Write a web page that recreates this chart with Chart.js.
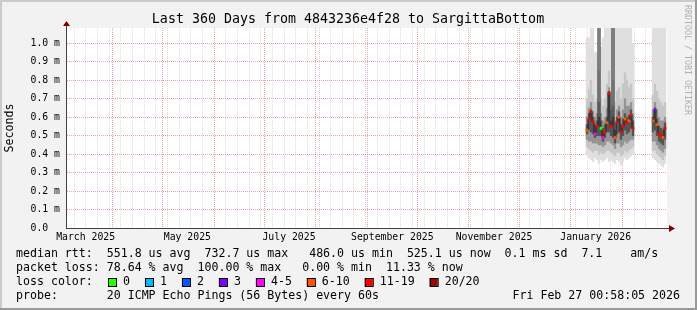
<!DOCTYPE html>
<html>
<head>
<meta charset="utf-8">
<title>Last 360 Days from 4843236e4f28 to SargittaBottom</title>
<script src="https://cdn.jsdelivr.net/npm/chart.js@4.4.1/dist/chart.umd.min.js"></script>
<style>
  html, body { margin: 0; padding: 0; background: #f2f2f2; }
  #wrap { width: 697px; height: 310px; }
</style>
</head>
<body>
<div id="wrap"><canvas id="rtt" width="697" height="310"></canvas></div>
<script>
// x is in days counted from 1 March 2025 (so month starts are whole numbers)
const binDays = [315.8, 317.0, 318.2, 319.4, 320.6, 321.8, 323.0, 324.2, 325.4, 326.6, 327.8, 329.0,
                 330.2, 331.4, 332.6, 333.8, 335.0, 336.2, 337.4, 338.6, 339.8, 341.0, 342.2, 343.4,
                 349.4,
                 355.4, 356.6, 357.8, 359.0, 360.2, 361.4, 362.6];

// smoke (ms): outer = min..max ping, then narrower darker bands around the median
const smokeMin = [.40, .38, .37, .36, .38, .37, .35, .37, .36, .37, .38, .36, .37, .36, .35, .37, .36, .34, .36, .38, .37, .38, .39, .40, null, .38, .37, .36, .35, .34, .33, .35];
const smokeMax = [1.03, 1.03, 1.2, 1.2, .95, .95, 1.2, .98, 1.03, 1.2, 1.2, 1.2, 1.2, 1.2, 1.2, 1.2, 1.2, 1.2, 1.2, 1.2, 1.2, 1.2, 1.2, 1.0, null, 1.2, 1.2, 1.2, 1.2, 1.2, 1.2, 1.2];
const band2Lo = [.44, .43, .42, .41, .42, .42, .40, .41, .40, .41, .42, .42, .41, .40, .39, .41, .41, .39, .40, .42, .41, .42, .43, .44, null, .42, .42, .40, .39, .38, .37, .39];
const band2Hi = [.70, .75, .80, .72, .68, .70, .85, .70, .66, .70, .78, .85, .74, .80, .68, .74, .76, .70, .78, .84, .80, .76, .78, .70, null, .72, .78, .74, .70, .68, .66, .68];
const band3Lo = [.48, .47, .47, .46, .46, .46, .45, .45, .44, .45, .47, .47, .46, .45, .43, .46, .46, .44, .45, .47, .46, .47, .48, .48, null, .47, .47, .45, .43, .42, .41, .43];
const band3Hi = [.60, .65, .68, .63, .60, .62, .68, .62, .58, .60, .65, .76, .64, .66, .58, .64, .66, .60, .64, .70, .66, .66, .68, .62, null, .64, .68, .64, .60, .58, .58, .60];
const coreLo = [.51, .53, .52, .51, .49, .50, .50, .50, .47, .49, .52, .52, .50, .49, .46, .51, .52, .48, .50, .53, .51, .52, .54, .50, null, .52, .53, .50, .47, .46, .45, .48];
const coreHi = [.56, .62, .64, .60, .56, .58, .60, .58, .54, .56, .60, .74, .58, .60, .53, .60, .63, .56, .59, .62, .60, .61, .64, .58, null, .60, .65, .59, .55, .54, .53, .57];

const medianRtt = [.53, .59, .63, .575, .51, .55, 1.5, .54, .49, .52, .57, .73, .55, 1.5, .49, .57, .60, .52, .55, .59, .57, .58, .61, .54, null, .58, .64, .56, .51, .50, .49, .54];
// index into lossLabels / lossColors
const lossClass = [5, 6, 6, 6, 4, 6, 6, 0, 4, 6, 5, 6, 6, 6, 5, 6, 5, 6, 6, 5, 6, 5, 6, 6, null, 5, 3, 5, 6, 6, 5, 6];

const lossLabels = ['0', '1', '2', '3', '4-5', '6-10', '11-19', '20/20'];
const lossColors = ['#26ff00', '#00b8ff', '#0059ff', '#7e00ff', '#ff00ff', '#ff5500', '#ff0000', '#a10000'];

const yTicks = [0, 0.1, 0.2, 0.3, 0.4, 0.5, 0.6, 0.7, 0.8, 0.9, 1.0];
const yTickLabels = ['0.0  ', '0.1 m', '0.2 m', '0.3 m', '0.4 m', '0.5 m', '0.6 m', '0.7 m', '0.8 m', '0.9 m', '1.0 m'];

const monthStarts = [31, 61, 92, 122, 153, 184, 214, 245, 275, 306, 337];
const labelDays = [15, 76, 137, 199, 260, 321];
const monthLabels = ['March 2025', 'May 2025', 'July 2025', 'September 2025', 'November 2025', 'January 2026'];

const titleText = 'Last 360 Days from 4843236e4f28 to SargittaBottom';
const legendLines = [
  'median rtt:  551.8 us avg  732.7 us max   486.0 us min  525.1 us now  0.1 ms sd  7.1    am/s',
  'packet loss: 78.64 % avg  100.00 % max   0.00 % min  11.33 % now'
];
const probeLine = 'probe:       20 ICMP Echo Pings (56 Bytes) every 60s';
const stampText = 'Fri Feb 27 00:58:05 2026';

const X_MIN = 3.8, X_MAX = 363.8;
const MONO = '"DejaVu Sans Mono", monospace';
const MGRID = 'rgba(230, 70, 70, 0.5)';
const GRID = 'rgba(143, 143, 143, 0.32)';

// weekly minor grid on Sundays (2 March 2025 = day 1)
const weekDays = [];
for (let d = 1; d < X_MAX; d += 7) if (d > X_MIN) weekDays.push(d);

const xTickValues = [...new Set([...weekDays, ...monthStarts, ...labelDays])].sort((a, b) => a - b);

function floating(lo, hi) {
  return binDays.map((d, i) => ({ x: d, y: lo[i] == null ? null : [lo[i], hi[i]] }));
}

function band(label, lo, hi, color, order) {
  return {
    type: 'bar',
    label: label,
    data: floating(lo, hi),
    backgroundColor: color,
    borderWidth: 0,
    grouped: false,
    barPercentage: 1,
    categoryPercentage: 1,
    order: order
  };
}

const rrdLook = {
  id: 'rrdLook',
  beforeDraw(chart) {
    const { ctx, chartArea: a, width, height } = chart;
    ctx.save();
    ctx.fillStyle = '#f2f2f2';
    ctx.fillRect(0, 0, width, height);
    ctx.fillStyle = '#cbcbcb';
    ctx.fillRect(0, 0, width, 2);
    ctx.fillRect(0, 0, 2, height);
    ctx.fillStyle = '#999999';
    ctx.fillRect(0, height - 2, width, 2);
    ctx.fillRect(width - 2, 0, 2, height);
    ctx.fillStyle = '#ffffff';
    ctx.fillRect(a.left, a.top, a.right - a.left, a.bottom - a.top);
    ctx.restore();
  },
  afterDraw(chart) {
    const { ctx, chartArea: a } = chart;
    ctx.save();

    // axes + arrows
    ctx.fillStyle = '#404040';
    ctx.fillRect(a.left - 1, a.top - 3, 1, a.bottom - a.top + 4);
    ctx.fillRect(a.left - 1, a.bottom, a.right - a.left + 4, 1);
    ctx.fillStyle = '#7f0000';
    ctx.beginPath();
    ctx.moveTo(a.left - 4, a.top - 2);
    ctx.lineTo(a.left + 3, a.top - 2);
    ctx.lineTo(a.left - 0.5, a.top - 7);
    ctx.fill();
    ctx.beginPath();
    ctx.moveTo(a.right + 2, a.bottom - 3);
    ctx.lineTo(a.right + 2, a.bottom + 4);
    ctx.lineTo(a.right + 8, a.bottom + 0.5);
    ctx.fill();

    // title
    ctx.fillStyle = '#000';
    ctx.font = '13.3px ' + MONO;
    ctx.textAlign = 'center';
    ctx.textBaseline = 'middle';
    ctx.fillText(titleText, 348, 20);

    // watermark
    ctx.save();
    ctx.translate(687, 5);
    ctx.rotate(Math.PI / 2);
    ctx.font = '8.3px ' + MONO;
    ctx.fillStyle = '#b0b0b0';
    ctx.textAlign = 'left';
    ctx.fillText('RRDTOOL / TOBI OETIKER', 0, 0);
    ctx.restore();

    // legend
    ctx.font = '11.6px ' + MONO;
    ctx.textAlign = 'left';
    ctx.fillStyle = '#000';
    ctx.fillText(legendLines[0], 16, 254);
    ctx.fillText(legendLines[1], 16, 268);
    ctx.fillText('loss color:', 16, 282);
    let bx = 108;
    lossLabels.forEach((lab, i) => {
      ctx.fillStyle = lossColors[i];
      ctx.fillRect(bx, 278, 8, 8);
      ctx.strokeStyle = '#000';
      ctx.lineWidth = 1;
      ctx.strokeRect(bx + 0.5, 278.5, 8, 8);
      ctx.fillStyle = '#000';
      ctx.fillText(lab, bx + 15, 282);
      bx = bx + 15 + ctx.measureText(lab).width + 15;
    });
    ctx.fillText(probeLine, 16, 296);
    ctx.textAlign = 'right';
    ctx.fillText(stampText, 680, 296);

    ctx.restore();
  }
};

const ctx = document.getElementById('rtt').getContext('2d');

new Chart(ctx, {
  type: 'bar',
  data: {
    datasets: [
      {
        type: 'line',
        label: 'median rtt',
        data: binDays.map((d, i) => ({ x: d, y: medianRtt[i] })),
        borderColor: '#1e1e1e',
        borderWidth: 1,
        stepped: 'middle',
        spanGaps: false,
        pointStyle: 'rect',
        pointRadius: 2,
        pointBorderWidth: 0,
        pointBackgroundColor: lossClass.map(c => c == null ? 'transparent' : lossColors[c]),
        order: 0
      },
      band('core', coreLo, coreHi, '#555555', 1),
      band('band3', band3Lo, band3Hi, '#949494', 2),
      band('band2', band2Lo, band2Hi, '#c6c6c6', 3),
      band('smoke', smokeMin, smokeMax, '#dfdfdf', 4)
    ]
  },
  options: {
    responsive: false,
    animation: false,
    events: [],
    layout: {
      padding: { left: 0, top: 28, right: 30, bottom: 0 }
    },
    plugins: {
      legend: { display: false },
      tooltip: { enabled: false }
    },
    scales: {
      x: {
        type: 'linear',
        min: X_MIN,
        max: X_MAX,
        offset: false,
        z: 1,
        afterBuildTicks: (scale) => {
          scale.ticks = xTickValues.map(v => ({ value: v }));
        },
        afterFit: (scale) => { scale.height = 82; },
        grid: {
          offset: false,
          drawTicks: false,
          lineWidth: 1,
          color: (c) => {
            const v = c.tick ? c.tick.value : null;
            if (monthStarts.includes(v)) return MGRID;
            if (weekDays.includes(v)) return GRID;
            return 'rgba(0, 0, 0, 0)';
          }
        },
        border: { display: false, dash: [1, 1] },
        ticks: {
          autoSkip: false,
          maxRotation: 0,
          minRotation: 0,
          padding: 4,
          color: '#000',
          font: { family: MONO, size: 9.8 },
          callback: (value) => {
            const k = labelDays.indexOf(value);
            return k >= 0 ? monthLabels[k] : '';
          }
        }
      },
      y: {
        type: 'linear',
        min: 0,
        max: 1.083,
        z: 1,
        afterBuildTicks: (scale) => {
          scale.ticks = yTicks.map(v => ({ value: v }));
        },
        afterFit: (scale) => { scale.width = 67; },
        grid: {
          drawTicks: false,
          lineWidth: 1,
          color: (c) => (c.tick && c.tick.value > 0) ? MGRID : 'rgba(0, 0, 0, 0)'
        },
        border: { display: false, dash: [1, 1] },
        ticks: {
          padding: 7,
          color: '#000',
          font: { family: MONO, size: 9.8 },
          callback: (value, index) => yTickLabels[index]
        },
        title: {
          display: true,
          text: 'Seconds',
          color: '#000',
          font: { family: MONO, size: 11.6 },
          padding: { top: 3.5, bottom: 0 }
        }
      }
    }
  },
  plugins: [rrdLook]
});
</script>
</body>
</html>
